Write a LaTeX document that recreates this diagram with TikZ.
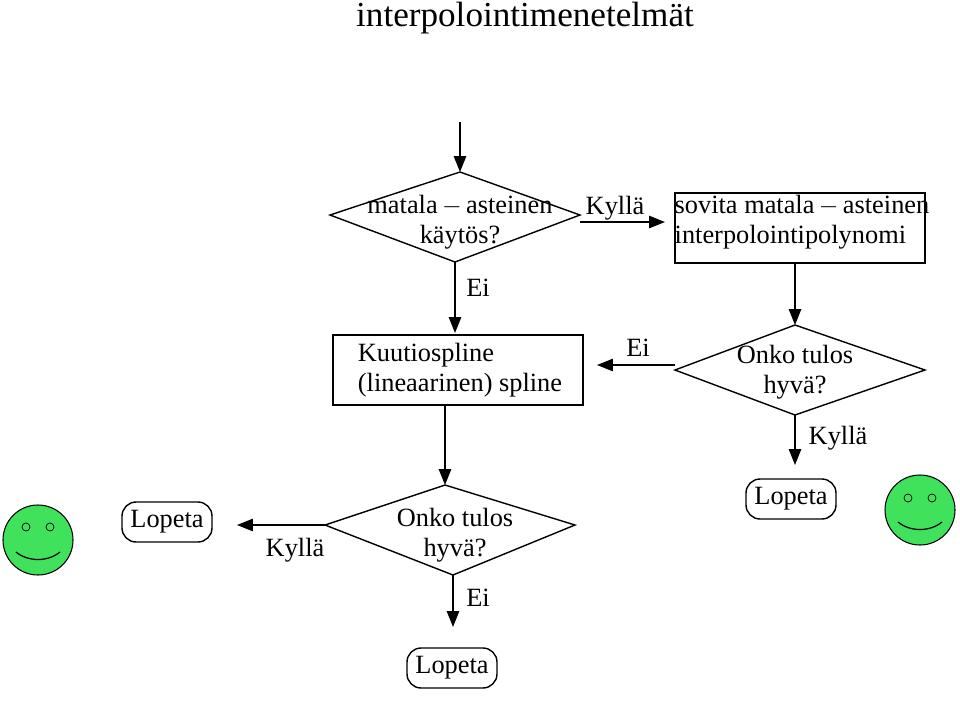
\documentclass[tikz,border=0pt]{standalone}
\usepackage{fontspec}
\setmainfont{Liberation Serif}
\usetikzlibrary{shapes.geometric,arrows.meta}
\begin{document}
\begin{tikzpicture}[x=0.02cm,y=-0.02cm,
  t/.style={font=\fontsize{15}{17}\selectfont},
  ar/.style={line width=0.8pt,-{Triangle[length=9pt,width=7pt]}},
  box/.style={draw,line width=0.8pt},
  lop/.style={draw,rounded corners=8pt,line width=0.8pt,minimum width=1.8cm,minimum height=0.8cm,t},
  smile/.style={fill=green!70!teal!75,draw,line width=0.6pt}]
\useasboundingbox (0,0) rectangle (960,700);
\node[font=\fontsize{20}{24}\selectfont] (title) at (525,18) {interpolointimenetelmät};
\coordinate (top) at (460,122);
% diamond 1
\draw[box] (330,215) coordinate (d1l) -- (460,172) coordinate (d1t) -- (580,215) coordinate (d1r) -- (455,262) coordinate (d1b) -- cycle;
\node[t,align=center] (d1) at (460,222) {matala\,$-$\,asteinen\\käytös?};
\draw[ar] (top) -- (d1t);
% box 1
\draw[box] (675,193) rectangle (925,263);
\node[t,align=left] (b1) at (802,222) {sovita matala\,$-$\,asteinen\\interpolointipolynomi};
\coordinate (b1l) at (665,222);
\draw[ar] (580,222) -- (b1l);
\node[t] (k1) at (615,208) {Kyllä};
% box 2
\draw[box] (333,335) rectangle (583,405);
\node[t,align=left] (b2) at (460,370) {Kuutiospline\\(lineaarinen) spline};
\draw[ar] (d1b) -- (455,333);
\node[t] (e1) at (478,288) {Ei};
% diamond 2
\draw[box] (675,370) coordinate (d2l) -- (795,325) coordinate (d2t) -- (925,370) -- (795,415) coordinate (d2b) -- cycle;
\node[t,align=center] (d2) at (795,372) {Onko tulos\\hyvä?};
\draw[ar] (795,263) -- (d2t);
\draw[ar] (675,365) -- (597,365);
\node[t] (e2) at (638,348) {Ei};
\draw[ar] (d2b) -- (795,465);
\node[t] (k2) at (838,438) {Kyllä};
\node[lop] (l1) at (791,499) {Lopeta};
% smiley right
\draw[smile] (920,510) circle (35);
\draw (908,498) circle (4); \draw (932,498) circle (4);
\draw[line width=0.7pt] (898,522) .. controls (910,532) and (930,532) .. (942,522);
% diamond 3
\draw[ar] (445,405) -- (445,485);
\draw[box] (325,525) coordinate (d3l) -- (445,485) coordinate (d3t) -- (575,525) -- (453,575) coordinate (d3b) -- cycle;
\node[t,align=center] (d3) at (455,535) {Onko tulos\\hyvä?};
\draw[ar] (d3l) -- (237,525);
\node[t] (k3) at (295,550) {Kyllä};
\node[lop] (l2) at (167,522) {Lopeta};
\draw[smile] (38,540) circle (35);
\draw (26,527) circle (4); \draw (50,527) circle (4);
\draw[line width=0.7pt] (16,552) .. controls (28,562) and (48,562) .. (60,552);
\draw[ar] (d3b) -- (453,627);
\node[t] (e3) at (478,598) {Ei};
\node[lop] (l3) at (452,668) {Lopeta};
\end{tikzpicture}
\end{document}
